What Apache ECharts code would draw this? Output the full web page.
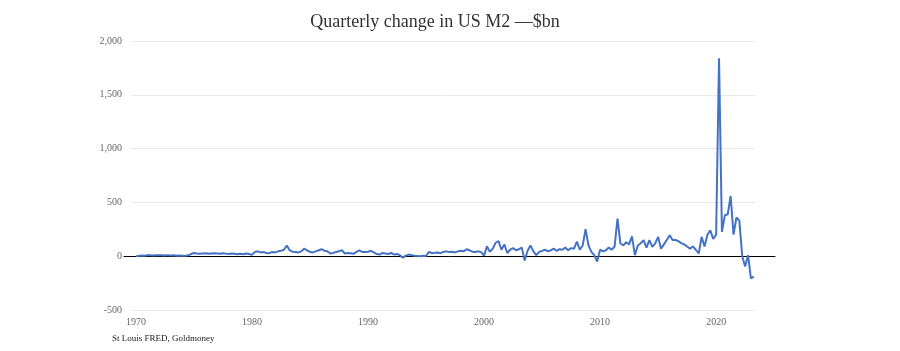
<!DOCTYPE html>
<html>
<head>
<meta charset="utf-8">
<script src="https://cdn.jsdelivr.net/npm/echarts@6/dist/echarts.min.js"></script>
<style>
html,body{margin:0;padding:0;background:#fff;}
#chart{width:900px;height:351px;}
</style>
</head>
<body>
<div id="chart"></div>
<script>
// Quarterly change in US M2, $bn, starting 1970 Q1 (one value per quarter)
const startYear = 1970;
const values = [
  0, 3, 6, 5,          // 1970
  10, 8, 6, 8,         // 1971
  10, 8, 6, 10,        // 1972
  6, 8, 4, 6,          // 1973
  5, 3, 8, 20,         // 1974
  30, 25, 22, 25,      // 1975
  28, 22, 25, 28,      // 1976
  25, 22, 28, 24,      // 1977
  20, 25, 22, 18,      // 1978
  22, 18, 25, 20,      // 1979
  12, 40, 45, 35,      // 1980
  38, 30, 28, 40,      // 1981
  35, 45, 50, 60,      // 1982
  98, 55, 42, 40,      // 1983
  35, 45, 70, 55,      // 1984
  40, 35, 45, 55,      // 1985
  65, 50, 45, 25,      // 1986
  30, 40, 45, 55,      // 1987
  25, 30, 28, 22,      // 1988
  40, 55, 40, 38,      // 1989
  42, 50, 35, 20,      // 1990
  15, 30, 25, 20,      // 1991
  30, 15, 20, 10,      // 1992
  -15, 5, 15, 10,      // 1993
  5, 3, 0, 5,          // 1994
  2, 40, 30, 32,       // 1995
  35, 28, 40, 45,      // 1996
  38, 42, 35, 45,      // 1997
  50, 45, 65, 55,      // 1998
  42, 40, 45, 38,      // 1999
  5, 93, 40, 70,       // 2000
  125, 140, 60, 110,   // 2001
  30, 60, 75, 55,      // 2002
  65, 80, -40, 50,     // 2003
  100, 45, 10, 40,     // 2004
  50, 60, 45, 55,      // 2005
  70, 50, 65, 60,      // 2006
  80, 55, 75, 70,      // 2007
  135, 60, 100, 250,   // 2008
  100, 40, 10, -50,    // 2009
  60, 45, 55, 80,      // 2010
  60, 90, 350, 120,    // 2011
  100, 130, 110, 185,  // 2012
  10, 100, 120, 150,   // 2013
  80, 150, 87, 120,    // 2014
  180, 70, 110, 150,   // 2015
  195, 150, 150, 140,  // 2016
  120, 110, 90, 70,    // 2017
  90, 60, 25, 180,     // 2018
  90, 200, 240, 160,   // 2019
  200, 1840, 226, 380, // 2020
  390, 560, 200, 360,  // 2021
  330, 0, -95, 10,     // 2022
  -205, -190           // 2023
];
const xTickLabels = [1970, 1980, 1990, 2000, 2010, 2020];
const yTicks = { min: -500, max: 2000, step: 500 };
const titleText = 'Quarterly change in US M2 \u2014$bn';
const sourceText = 'St Louis FRED, Goldmoney';

const seriesData = values.map((v, i) => [startYear + i * 0.25, v]);

const serif = '"Liberation Serif", "DejaVu Serif", serif';
const chart = echarts.init(document.getElementById('chart'));
chart.setOption({
  animation: false,
  backgroundColor: '#ffffff',
  title: [
    { text: titleText, left: 430, top: 8, textAlign: 'center',
      textStyle: { fontFamily: serif, fontSize: 18, fontWeight: 'normal', color: '#333' } },
    { text: sourceText, left: 107, top: 329,
      textStyle: { fontFamily: serif, fontSize: 9, fontWeight: 'normal', color: '#222' } }
  ],
  grid: [
    { left: 132, right: 145, top: 41, bottom: 41 },
    { left: 124, right: 125, top: 41, bottom: 41 }
  ],
  xAxis: [
    { type: 'value', gridIndex: 0, min: 1969.66, max: 2023.35,
      axisLine: { show: false }, axisTick: { show: false }, splitLine: { show: false },
      axisLabel: { customValues: xTickLabels, formatter: v => String(Math.round(v)),
        fontFamily: serif, fontSize: 10, color: '#666', margin: 7 } },
    { type: 'value', gridIndex: 1, min: 0, max: 1,
      axisLine: { show: true, onZero: true, lineStyle: { color: '#000', width: 1 } },
      axisTick: { show: false }, axisLabel: { show: false }, splitLine: { show: false } }
  ],
  yAxis: [
    { type: 'value', gridIndex: 0, min: yTicks.min, max: yTicks.max, interval: yTicks.step,
      axisLine: { show: false }, axisTick: { show: false },
      splitLine: { lineStyle: { color: '#e8e8e8', width: 1 } },
      axisLabel: { formatter: v => v.toLocaleString('en-US'), fontFamily: serif, fontSize: 10,
        color: '#666', margin: 10 } },
    { type: 'value', gridIndex: 1, min: yTicks.min, max: yTicks.max, interval: yTicks.step,
      axisLine: { show: false }, axisTick: { show: false }, axisLabel: { show: false },
      splitLine: { show: false } }
  ],
  series: [
    { type: 'line', xAxisIndex: 0, yAxisIndex: 0, data: seriesData, showSymbol: false,
      lineStyle: { color: '#4472C4', width: 2 }, itemStyle: { color: '#4472C4' }, z: 3 }
  ]
});
</script>
</body>
</html>
